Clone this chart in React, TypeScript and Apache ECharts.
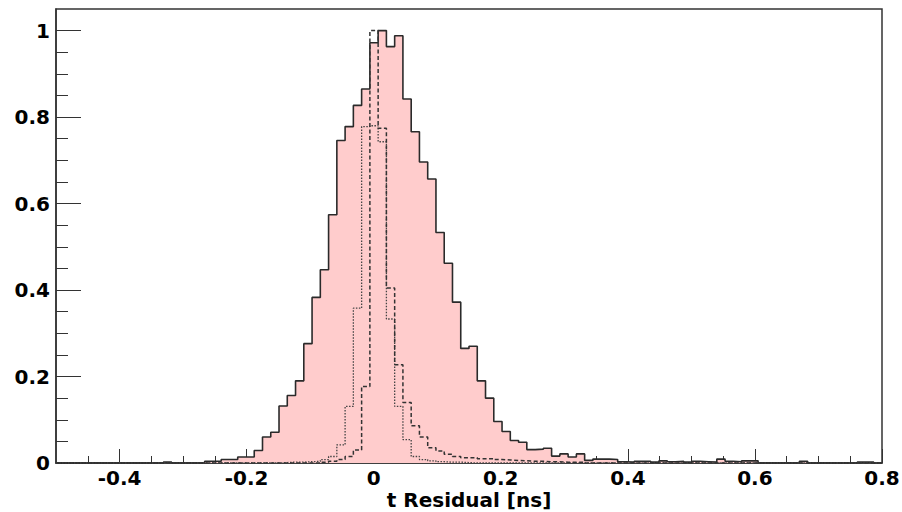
import React, { useEffect, useRef } from "react";
import * as echarts from "echarts";

// Histogram binning: 100 bins from -0.5 to 0.8 ns
const binStart = -0.5;
const binWidth = 0.013;

// All hits (filled, solid outline)
const allHits: number[] = [
  0, 0, 0, 0, 0, 0, 0, 0, 0, 0,
  0, 0, 0, 0.002, 0, 0, 0, 0, 0.004, 0.004,
  0.008, 0.008, 0.014, 0.014, 0.029, 0.06, 0.071, 0.132, 0.156, 0.19,
  0.276, 0.383, 0.447, 0.574, 0.746, 0.778, 0.827, 0.865, 0.972, 1.0,
  0.963, 0.988, 0.842, 0.766, 0.696, 0.657, 0.533, 0.462, 0.372, 0.265,
  0.27, 0.19, 0.15, 0.096, 0.073, 0.052, 0.048, 0.031, 0.032, 0.034,
  0.016, 0.021, 0.014, 0.021, 0.006, 0.009, 0.009, 0.008, 0.003, 0.002,
  0.004, 0.004, 0.002, 0.005, 0.003, 0.004, 0.002, 0.004, 0.003, 0.002,
  0.009, 0.004, 0.003, 0.005, 0.005, 0, 0, 0, 0, 0,
  0.004, 0, 0, 0, 0, 0, 0, 0.002, 0.002, 0,
];

// Dotted histogram
const dottedHits: number[] = [
  0, 0, 0, 0, 0, 0, 0, 0, 0, 0,
  0, 0, 0, 0, 0, 0, 0, 0, 0, 0,
  0, 0, 0, 0, 0, 0, 0, 0.001, 0.002, 0.002,
  0.003, 0.004, 0.008, 0.015, 0.042, 0.131, 0.358, 0.778, 0.78, 0.743,
  0.333, 0.131, 0.054, 0.015, 0.008, 0.005, 0.003, 0.002, 0.002, 0.001,
  0, 0, 0, 0, 0, 0, 0, 0, 0, 0,
  0, 0, 0, 0, 0, 0, 0, 0, 0, 0,
  0, 0, 0, 0, 0, 0, 0, 0, 0, 0,
  0, 0, 0, 0, 0, 0, 0, 0, 0, 0,
  0, 0, 0, 0, 0, 0, 0, 0, 0, 0,
];

// Dashed histogram
const dashedHits: number[] = [
  0, 0, 0, 0, 0, 0, 0, 0, 0, 0,
  0, 0, 0, 0, 0, 0, 0, 0, 0, 0,
  0, 0, 0, 0, 0, 0, 0, 0, 0, 0,
  0, 0, 0.002, 0.004, 0.008, 0.015, 0.03, 0.177, 1.0, 0.774,
  0.405, 0.227, 0.14, 0.086, 0.06, 0.035, 0.028, 0.02, 0.015, 0.012,
  0.012, 0.01, 0.01, 0.008, 0.007, 0.006, 0.005, 0.004, 0.004, 0.003,
  0.003, 0.002, 0.002, 0.002, 0, 0, 0, 0, 0, 0,
  0, 0, 0, 0, 0, 0, 0, 0, 0, 0,
  0, 0, 0, 0, 0, 0, 0, 0, 0, 0,
  0, 0, 0, 0, 0, 0, 0, 0, 0, 0,
];

const xMajorTicks = [-0.4, -0.2, 0, 0.2, 0.4, 0.6, 0.8];
const xMinorTicks = [
  -0.45, -0.35, -0.3, -0.25, -0.15, -0.1, -0.05, 0.05, 0.1, 0.15, 0.25, 0.3,
  0.35, 0.45, 0.5, 0.55, 0.65, 0.7, 0.75,
];
const yMajorTicks = [0, 0.2, 0.4, 0.6, 0.8, 1];
const yMinorTicks = [
  0.05, 0.1, 0.15, 0.25, 0.3, 0.35, 0.45, 0.5, 0.55, 0.65, 0.7, 0.75, 0.85,
  0.9, 0.95,
];
const xTitle = "t Residual [ns]";

function histPoints(values: number[]): number[][] {
  const pts = values.map((v, i) => [binStart + i * binWidth, v]);
  pts.push([binStart + values.length * binWidth, values[values.length - 1]]);
  return pts;
}

const FONT = "DejaVu Sans";
const INK = "#333";

export default function App() {
  const ref = useRef<HTMLDivElement>(null);
  useEffect(() => {
    document.body.style.margin = "0";
    if (!ref.current) return;
    const chart = echarts.init(ref.current, undefined, {
      renderer: "svg",
      width: 902,
      height: 512,
    });
    const xRange = { min: -0.5, max: 0.8 };
    const yRange = { min: 0, max: 1.05 };
    chart.setOption({
      animation: false,
      backgroundColor: "#fff",
      grid: {
        left: 56,
        right: 20,
        top: 9,
        bottom: 49,
        containLabel: false,
        outerBoundsMode: "none",
        show: true,
        borderColor: INK,
        borderWidth: 1.5,
        backgroundColor: "transparent",
      },
      xAxis: [
        {
          type: "value",
          ...xRange,
          position: "bottom",
          name: xTitle,
          nameLocation: "middle",
          nameGap: 27,
          nameMoveOverlap: false,
          nameTextStyle: {
            fontFamily: FONT,
            fontWeight: "bold",
            fontSize: 20,
            lineHeight: 20,
            color: "#000",
          },
          axisLine: {
            show: true,
            onZero: false,
            lineStyle: { color: INK, width: 1.5 },
          },
          axisTick: {
            show: true,
            inside: true,
            length: 14,
            customValues: xMajorTicks,
            lineStyle: { color: INK, width: 1 },
          },
          axisLabel: {
            show: true,
            customValues: xMajorTicks,
            margin: 5,
            fontFamily: FONT,
            fontWeight: "bold",
            fontSize: 20,
            lineHeight: 20,
            color: "#000",
            formatter: (v: number) => String(Math.round(v * 10) / 10),
          },
          splitLine: { show: false },
        },
        {
          type: "value",
          ...xRange,
          position: "bottom",
          axisLine: { show: false, onZero: false },
          axisTick: {
            show: true,
            inside: true,
            length: 7,
            customValues: xMinorTicks,
            lineStyle: { color: INK, width: 1 },
          },
          axisLabel: { show: false },
          splitLine: { show: false },
        },
      ],
      yAxis: [
        {
          type: "value",
          ...yRange,
          position: "left",
          axisLine: {
            show: true,
            onZero: false,
            lineStyle: { color: INK, width: 1.5 },
          },
          axisTick: {
            show: true,
            inside: true,
            length: 25,
            customValues: yMajorTicks,
            lineStyle: { color: INK, width: 1 },
          },
          axisLabel: {
            show: true,
            customValues: yMajorTicks,
            margin: 6,
            fontFamily: FONT,
            fontWeight: "bold",
            fontSize: 20,
            color: "#000",
            formatter: (v: number) => String(Math.round(v * 10) / 10),
          },
          splitLine: { show: false },
        },
        {
          type: "value",
          ...yRange,
          position: "left",
          offset: 0,
          axisLine: { show: false, onZero: false },
          axisTick: {
            show: true,
            inside: true,
            length: 12,
            customValues: yMinorTicks,
            lineStyle: { color: INK, width: 1 },
          },
          axisLabel: { show: false },
          splitLine: { show: false },
        },
      ],
      series: [
        {
          type: "line",
          name: "all",
          data: histPoints(allHits),
          step: "end",
          symbol: "none",
          xAxisIndex: 0,
          yAxisIndex: 0,
          z: 2,
          lineStyle: { color: "#2a2a2a", width: 1.6 },
          areaStyle: { color: "#ffcccc", opacity: 1 },
        },
        {
          type: "line",
          name: "dotted",
          data: histPoints(dottedHits),
          step: "end",
          symbol: "none",
          xAxisIndex: 0,
          yAxisIndex: 0,
          z: 3,
          lineStyle: { color: "#444", width: 1.3, type: [1.5, 1.5] },
        },
        {
          type: "line",
          name: "dashed",
          data: histPoints(dashedHits),
          step: "end",
          symbol: "none",
          xAxisIndex: 0,
          yAxisIndex: 0,
          z: 4,
          lineStyle: { color: "#333", width: 1.5, type: [4, 2.5] },
        },
      ],
    });
    return () => chart.dispose();
  }, []);
  return <div ref={ref} style={{ width: 902, height: 512 }} />;
}
